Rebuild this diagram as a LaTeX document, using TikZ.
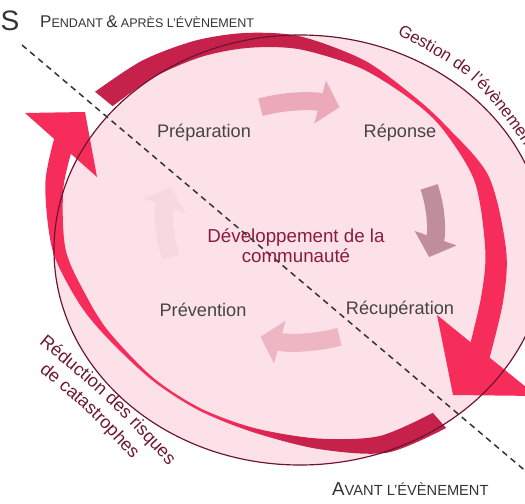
\documentclass[tikz,border=0pt]{standalone}
\usepackage{fontspec}
\setmainfont{Liberation Sans}
\usetikzlibrary{arrows.meta,
                decorations.text}

\definecolor{discfill}{HTML}{FCE1E8}
\definecolor{discline}{HTML}{6A1430}
\definecolor{deepred}{HTML}{C5214B}
\definecolor{brightred}{HTML}{F62C5B}
\definecolor{labelgray}{HTML}{444444}
\definecolor{devtext}{HTML}{8A1C3E}
\definecolor{arctext}{HTML}{6E1835}
\definecolor{titlegray}{HTML}{333333}
\definecolor{arrtop}{HTML}{EBA9B9}
\definecolor{arrright}{HTML}{BF8D9C}
\definecolor{arrbottom}{HTML}{EEB5C3}
\definecolor{arrleft}{HTML}{F8D8E0}

\pgfdeclarehorizontalshading{topband}{100bp}{color(0bp)=(deepred); color(53bp)=(deepred); color(62bp)=(brightred); color(100bp)=(brightred)}
\pgfdeclarehorizontalshading{lowband}{100bp}{color(0bp)=(brightred); color(47bp)=(brightred); color(57bp)=(deepred); color(100bp)=(deepred)}

\newcommand{\arcfont}{\fontsize{15.4}{18}\selectfont\color{arctext}}
\newcommand{\arcfontB}{\fontsize{14.4}{17}\selectfont\color{arctext}}
\newcommand{\capbig}{\fontsize{14.5}{16}\selectfont}
\newcommand{\capsmall}{\fontsize{10.7}{12}\selectfont}
\newcommand{\capbigB}{\fontsize{16}{18}\selectfont}
\newcommand{\capsmallB}{\fontsize{12.5}{14}\selectfont}

\tikzset{phase/.style=
   {font=\fontsize{15.5}{18}\selectfont,
    text=labelgray,
    inner sep=0pt}}
\tikzset{devlabel/.style=
   {font=\fontsize{16}{17}\selectfont,
    text=devtext,
    align=center,
    inner sep=0pt}}
\tikzset{timetitle/.style = {text=titlegray, inner sep=0pt}}
\tikzset{cyclearrow/.style = {line width=0.54cm, -{Triangle[width=1.3cm,length=0.6cm]}}}
\tikzset{cutline/.style = {draw=black!80, line width=0.045cm, dash pattern=on 0.18cm off 0.14cm}}

\begin{document}
\begin{tikzpicture}[x=0.03cm, y=-0.03cm]

    \useasboundingbox (0,0) rectangle (525,504);
    \clip (0,0) rectangle (525,504);

    % Disc
    \fill[discfill] (300,250) ellipse [x radius=246, y radius=215];

    % Big arrows round the disc
    \begin{scope}[shift={(288,250)}]
    \shade[shading=topband]
      plot[smooth] coordinates {(-138:259.6 and 236.5) (-125:253.9 and 231.3)
        (-112:247.8 and 225.8) (-100:241.9 and 220.4) (-87:234.8 and 213.9)
        (-70:221.8 and 202.1) (-54:210.7 and 192.0) (-41:208.6 and 190.1)
        (-22:216.4 and 197.2) (0:218.1 and 198.7) (15:222.5 and 202.7)
        (33:237.2 and 216.1)}
      -- plot[smooth] coordinates {(33:213.6 and 194.6) (15:199.9 and 182.1)
        (0:197.3 and 179.7) (-22:201.3 and 183.4) (-41:203.9 and 185.8)
        (-54:206.0 and 187.7) (-70:212.4 and 193.5) (-87:220.7 and 201.0)
        (-100:225.4 and 205.3) (-112:228.9 and 208.6) (-125:232.2 and 211.6)
        (-138:236 and 215)}
      -- cycle;
    \shade[shading=lowband]
      plot[smooth] coordinates {(51:251.3 and 229.0) (66:243.6 and 221.9)
        (82:220.7 and 201.0) (100:203.0 and 184.9) (117:197.3 and 179.7)
        (134:197.3 and 179.7) (153:205.8 and 187.5) (165:217.6 and 198.2)
        (180:235.5 and 214.6) (197:253.7 and 231.1) (210:266.7 and 243.0)}
      -- plot[smooth] coordinates {(210:245.4 and 223.6) (197:234.8 and 213.9)
        (180:222.3 and 202.5) (165:207.2 and 188.8) (153:200.1 and 182.3)
        (134:194.5 and 177.2) (117:194.5 and 177.2) (100:198.2 and 180.6)
        (82:208.9 and 190.3) (66:223.7 and 203.8) (51:230.1 and 209.6)}
      -- cycle;
    \end{scope}
    \fill[brightred] (437,315) -- (453,395) -- (537,396) -- cycle;
    \fill[brightred] (25,113) -- (85,112) -- (97,177) -- cycle;

    % Outline
    \draw[discline, line width=0.035cm] (300,250) ellipse [x radius=246, y radius=215];

    % Cycle arrows
    \begin{scope}[shift={(300,222)}]
    \coordinate (topA) at (-107:135 and 120);
    \coordinate (rightA) at (-17:135 and 120);
    \coordinate (bottomA) at (73:135 and 120);
    \coordinate (leftA) at (163:135 and 120);
    \draw[cyclearrow, arrtop] (topA) arc[start angle=-107, end angle=-73, x radius=135, y radius=120];
    \draw[cyclearrow, arrright] (rightA) arc[start angle=-17, end angle=17, x radius=135, y radius=120];
    \draw[cyclearrow, arrbottom] (bottomA) arc[start angle=73, end angle=107, x radius=135, y radius=120];
    \draw[cyclearrow, arrleft] (leftA) arc[start angle=163, end angle=197, x radius=135, y radius=120];
    \end{scope}

    % Before / after cut
    \coordinate (cutA) at (22,45);
    \coordinate (cutB) at (548,490);
    \draw[cutline] (cutA) -- (cutB);

    % Texts round the disc
    \path[decorate, decoration={text along path, text align=left,
        text={|\arcfontB|Gestion de l'évènement}}]
      (397,34) .. controls (478,78) .. (548,180);
    \path[decorate, decoration={text along path, text align=center,
        text={|\arcfont|Réduction des risques}}]
      (20,328) .. controls (108,400) .. (185,484);
    \path[decorate, decoration={text along path, text align=center,
        text={|\arcfont|de catastrophes}}]
      (14.5,351) .. controls (89,412) .. (153.5,483);

    % Phases
    \node [phase] (prep) at (204,133) {Préparation};
    \node [phase] (resp) at (400,133) {Réponse};
    \node [phase] (prev) at (203,310) {Prévention};
    \node [phase] (recup) at (400,310) {Récupération};
    \node [devlabel] (dev) at (296,246) {Développement de la\\communauté};

    % Titles
    \node [timetitle, anchor=base west, font=\fontsize{24}{26}\selectfont] (cutS) at (0.5,31) {S};
    \node [timetitle, anchor=base west] (during) at (40,27)
      {{\capbig P}{\capsmall ENDANT} {\capbig\&} {\capsmall APRÈS L'ÉVÈNEMENT}};
    \node [timetitle, anchor=base west] (before) at (332,495)
      {{\capbigB A}{\capsmallB VANT L'ÉVÈNEMENT}};

\end{tikzpicture}
\end{document}
